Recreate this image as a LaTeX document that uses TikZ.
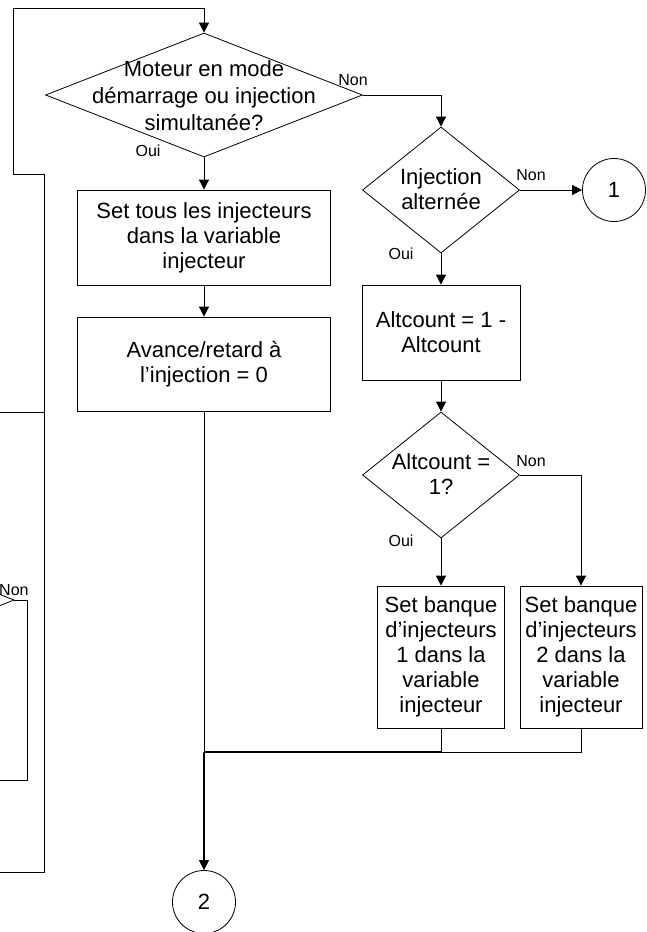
\documentclass[tikz,border=0pt]{standalone}
\usepackage{fontspec}
\setmainfont{Liberation Sans}
\usetikzlibrary{shapes.geometric,arrows.meta}
\begin{document}
\begin{tikzpicture}[x=1pt,y=-1pt,
  line width=0.8pt,
  box/.style={draw, rectangle, inner sep=0pt, align=center, font=\fontsize{22}{25}\selectfont},
  dia/.style={draw, diamond, inner sep=0pt},
  txt/.style={align=center, font=\fontsize{22}{25}\selectfont, inner sep=0pt},
  lab/.style={font=\fontsize{16}{18}\selectfont, inner sep=0pt},
  conn/.style={circle, draw, inner sep=0pt, minimum size=63pt, font=\fontsize{22}{25}\selectfont},
  arr/.style={-{Triangle[length=10pt,width=10pt]}},
  thick line/.style={line width=1.3pt},
]
\useasboundingbox (0,0) rectangle (646,932);

% decisions
\node[dia, minimum width=317pt, minimum height=124pt] (d1) at (204,95) {};
\node[txt, font=\fontsize{22}{27}\selectfont] (t1) at (204,96) {Moteur en mode\\démarrage ou injection\\simultanée?};
\node[dia, minimum width=157pt, minimum height=126pt] (d2) at (441,190) {};
\node[txt] (t2) at (441,189) {Injection\\alternée};
\node[dia, minimum width=157pt, minimum height=126pt] (d3) at (441,475) {};
\node[txt] (t3) at (441,474) {Altcount =\\1?};

% processes
\node[box, minimum width=253pt, minimum height=95pt] (b1) at (204,237.5) {Set tous les injecteurs\\dans la variable\\injecteur};
\node[box, minimum width=253pt, minimum height=94pt] (b2) at (204,364) {Avance/retard à\\l’injection = 0};
\node[box, minimum width=158pt, minimum height=95pt] (b3) at (441,332.5) {Altcount = 1 -\\Altcount};
\node[box, minimum width=127pt, minimum height=142pt] (b4) at (441,657) {Set banque\\d’injecteurs\\1 dans la\\variable\\injecteur};
\node[box, minimum width=122pt, minimum height=142pt] (b5) at (581,657) {Set banque\\d’injecteurs\\2 dans la\\variable\\injecteur};

% connectors
\node[conn] (c1) at (614,190) {1};
\node[conn] (c2) at (204,902) {2};

% coordinates for free ends
\coordinate (j) at (204,752);
\coordinate (jb) at (441,752);
\coordinate (l0) at (0,412);
\coordinate (l1) at (44,412);
\coordinate (l2) at (44,174);
\coordinate (l3) at (13,174);
\coordinate (l4) at (13,8);
\coordinate (l5) at (204,8);
\coordinate (l6) at (44,872);
\coordinate (l7) at (0,872);
\coordinate (p0) at (0,594.5);
\coordinate (p1) at (14,600);
\coordinate (p2) at (0,605.5);
\coordinate (p3) at (27,600);
\coordinate (p4) at (27,780);
\coordinate (p5) at (0,780);

% edges
\draw[arr] (l0) -- (l1) -- (l2) -- (l3) -- (l4) -- (l5) -- (d1.north);
\draw (l1) -- (l6) -- (l7);
\draw[arr] (d1.south) -- (b1.north);
\draw[arr] (b1.south) -- (b2.north);
\draw[arr] (d1.east) -| (d2.north);
\draw[arr] (d2.east) -- (c1.west);
\draw[arr] (d2.south) -- (b3.north);
\draw[arr] (b3.south) -- (d3.north);
\draw[arr] (d3.south) -- (b4.north);
\draw[arr] (d3.east) -| (b5.north);
\draw (b5.south) |- (jb);
\draw (b4.south) -- (jb);
\draw[thick line] (jb) -- (j);
\draw (b2.south) -- (j);
\draw[arr, thick line] (j) -- (c2.north);

% partial shape at left edge
\draw (p0) -- (p1) -- (p2);
\draw (p1) -- (p3) -- (p4) -- (p5);

% labels
\node[lab] (n1) at (353,80) {Non};
\node[lab] (o1) at (148,151) {Oui};
\node[lab] (n2) at (531,175) {Non};
\node[lab] (o2) at (401,254) {Oui};
\node[lab] (n3) at (531,461) {Non};
\node[lab] (o3) at (401,541) {Oui};
\node[lab, anchor=east] (n4) at (29,590) {Non};
\end{tikzpicture}
\end{document}
